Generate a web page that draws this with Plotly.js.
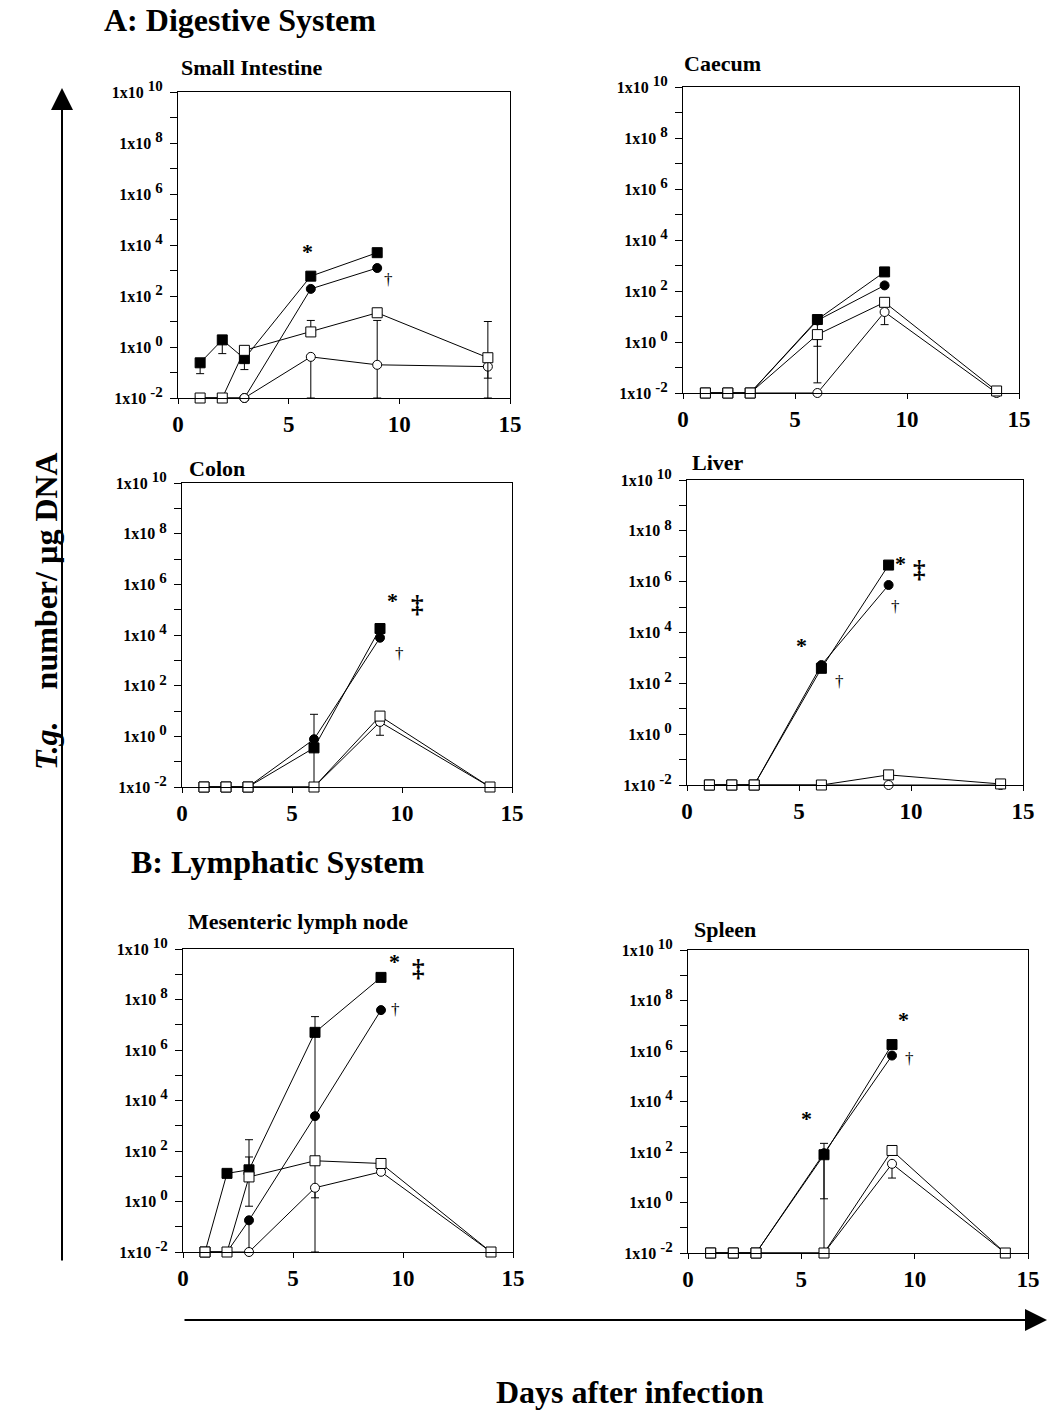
<!DOCTYPE html>
<html>
<head>
<meta charset="utf-8">
<script src="https://cdn.plot.ly/plotly-3.0.1.min.js"></script>
<style>html,body{margin:0;padding:0;background:#fff;}#chart{width:1051px;height:1410px;}</style>
</head>
<body>
<div id="chart"></div>
<script>
// ---------- DATA ----------
const days = [1, 2, 3, 6, 9, 14];
const panelTitles = ["Small Intestine", "Caecum", "Colon", "Liver", "Mesenteric lymph node", "Spleen"];
const decadeExp = [-2, -1, 0, 1, 2, 3, 4, 5, 6, 7, 8, 9, 10];
const xTicks = [0, 5, 10, 15];

// Small intestine
const si_fsq = [0.24, 1.9, 0.35, 600, 5000, null];
const si_fci = [0.01, 0.01, 0.01, 190, 1250, null];
const si_osq = [0.01, 0.01, 0.74, 3.9, 22, 0.38];
const si_oci = [0.01, 0.01, 0.01, 0.41, 0.2, 0.17];
const si_fsq_lo = [0.09, 0.55, 0.13, null, null, null];
const si_osq_hi = [null, null, null, 11, null, 10];
const si_osq_lo = [null, null, null, null, null, 0.01];
const si_oci_hi = [null, null, null, null, 11, null];
const si_oci_lo = [null, null, null, 0.01, 0.01, 0.06];

// Caecum
const ca_fsq = [0.01, 0.01, 0.01, 7.6, 560, null];
const ca_fci = [0.01, 0.01, 0.01, 7, 166, null];
const ca_osq = [0.01, 0.01, 0.01, 1.95, 36, 0.012];
const ca_oci = [0.01, 0.01, 0.01, 0.01, 15, 0.01];
const ca_fsq_lo = [null, null, null, 0.68, null, null];
const ca_osq_lo = [null, null, null, 0.025, null, null];
const ca_oci_lo = [null, null, null, null, 4.8, null];

// Colon
const co_fsq = [0.01, 0.01, 0.01, 0.35, 18000, null];
const co_fci = [0.01, 0.01, 0.01, 0.77, 7800, null];
const co_osq = [0.01, 0.01, 0.01, 0.01, 6.3, 0.01];
const co_oci = [0.01, 0.01, 0.01, 0.01, 3.7, 0.01];
const co_fci_hi = [null, null, null, 7.4, null, null];
const co_fsq_lo = [null, null, null, 0.01, null, null];
const co_fsq_hi = [null, null, null, null, 24000, null];
const co_oci_lo = [null, null, null, null, 1.1, null];

// Liver
const li_fsq = [0.01, 0.01, 0.01, 390, 4.5e6, null];
const li_fci = [0.01, 0.01, 0.01, 525, 7.4e5, null];
const li_osq = [0.01, 0.01, 0.01, 0.01, 0.025, 0.011];
const li_oci = [0.01, 0.01, 0.01, 0.01, 0.01, 0.01];

// Mesenteric lymph node
const ml_fsq = [0.01, 13, 18, 5e6, 7.5e8, null];
const ml_fci = [0.01, 0.01, 0.18, 2400, 3.8e7, null];
const ml_osq = [0.01, 0.01, 9.4, 41, 32, 0.01];
const ml_oci = [0.01, 0.01, 0.01, 3.5, 15, 0.01];
const ml_fsq_hi = [null, null, 280, 2.1e7, null, null];
const ml_fsq_lo = [null, null, null, 0.01, null, null];
const ml_osq_hi = [null, null, 58, null, null, null];
const ml_osq_lo = [null, null, 0.65, null, null, null];
const ml_fci_lo = [null, null, 0.01, null, null, null];
const ml_oci_lo = [null, null, null, 1.4, null, null];

// Spleen
const sp_fsq = [0.01, 0.01, 0.01, 78, 1.8e6, null];
const sp_fci = [0.01, 0.01, 0.01, 90, 6.6e5, null];
const sp_osq = [0.01, 0.01, 0.01, 0.01, 115, 0.01];
const sp_oci = [0.01, 0.01, 0.01, 0.01, 34, 0.01];
const sp_fsq_hi = [null, null, null, 220, null, null];
const sp_fsq_lo = [null, null, null, 0.01, null, null];
const sp_fci_lo = [null, null, null, 1.4, null, null];
const sp_oci_lo = [null, null, null, null, 9.3, null];

// significance marks: [panel, symbol, day, log10 level]
const marks = [
  [1, "*", 5.87, 3.74], [1, "†", 9.5, 2.65],
  [3, "*", 9.58, 5.38], [3, "‡", 10.7, 5.21], [3, "†", 9.9, 3.27],
  [4, "*", 9.54, 6.72], [4, "‡", 10.37, 6.46], [4, "†", 9.33, 5.02], [4, "*", 5.09, 3.48], [4, "†", 6.83, 2.07],
  [5, "*", 9.6, 9.5], [5, "‡", 10.7, 9.23], [5, "†", 9.64, 7.6],
  [6, "*", 9.52, 7.23], [6, "†", 9.78, 5.71], [6, "*", 5.23, 3.34]
];

// ---------- LAYOUT GEOMETRY (pixels) ----------
const W = 1051, H = 1410;
const FONT = "Liberation Serif, Times New Roman, serif";
const boxes = [
  {l: 178, r: 510, t: 92, b: 398, tx: 179, ty: 68},
  {l: 683, r: 1019, t: 87, b: 393, tx: 682, ty: 64},
  {l: 182, r: 512, t: 483, b: 787, tx: 187, ty: 468},
  {l: 687, r: 1023, t: 480, b: 785, tx: 690, ty: 463},
  {l: 183, r: 513, t: 949, b: 1252, tx: 186, ty: 922},
  {l: 688, r: 1028, t: 950, b: 1253, tx: 692, ty: 929}
];

function errY(y, hi, lo) {
  if (!hi && !lo) return undefined;
  return {
    type: "data", symmetric: false, visible: true,
    array: y.map((v, i) => (hi && hi[i] != null && v != null) ? hi[i] - v : 0),
    arrayminus: y.map((v, i) => (lo && lo[i] != null && v != null) ? v - lo[i] : 0),
    color: "black", thickness: 1, width: 4
  };
}
function series(n, y, symbol, filled, hi, lo) {
  const t = {
    x: days, y: y, type: "scatter", mode: "lines+markers",
    xaxis: "x" + (n === 1 ? "" : n), yaxis: "y" + (n === 1 ? "" : n),
    line: {color: "black", width: 1},
    marker: {symbol: symbol, size: symbol === "square" ? 10 : 9,
             color: filled ? "black" : "white", line: {color: "black", width: 1}},
    cliponaxis: false, showlegend: false, hoverinfo: "x+y"
  };
  const e = errY(y, hi, lo);
  if (e) t.error_y = e;
  return t;
}

const data = [
  series(1, si_fci, "circle", true), series(1, si_fsq, "square", true, null, si_fsq_lo),
  series(1, si_oci, "circle", false, si_oci_hi, si_oci_lo), series(1, si_osq, "square", false, si_osq_hi, si_osq_lo),

  series(2, ca_fci, "circle", true), series(2, ca_fsq, "square", true, null, ca_fsq_lo),
  series(2, ca_oci, "circle", false, null, ca_oci_lo), series(2, ca_osq, "square", false, null, ca_osq_lo),

  series(3, co_fci, "circle", true, co_fci_hi, null), series(3, co_fsq, "square", true, co_fsq_hi, co_fsq_lo),
  series(3, co_oci, "circle", false, null, co_oci_lo), series(3, co_osq, "square", false),

  series(4, li_fci, "circle", true), series(4, li_fsq, "square", true),
  series(4, li_oci, "circle", false), series(4, li_osq, "square", false),

  series(5, ml_fci, "circle", true, null, ml_fci_lo), series(5, ml_fsq, "square", true, ml_fsq_hi, ml_fsq_lo),
  series(5, ml_oci, "circle", false, null, ml_oci_lo), series(5, ml_osq, "square", false, ml_osq_hi, ml_osq_lo),

  series(6, sp_fci, "circle", true, null, sp_fci_lo), series(6, sp_fsq, "square", true, sp_fsq_hi, sp_fsq_lo),
  series(6, sp_oci, "circle", false, null, sp_oci_lo), series(6, sp_osq, "square", false)
];

const layout = {
  width: W, height: H, margin: {l: 0, r: 0, t: 0, b: 0},
  paper_bgcolor: "white", plot_bgcolor: "white", showlegend: false,
  font: {family: FONT, color: "black"},
  annotations: [], shapes: []
};

const yTickVals = decadeExp.map(e => Math.pow(10, e));
const yTickText = decadeExp.map(e => (e % 2 === 0)
  ? "1x10 <sup><span style=\"font-size:15px\">" + e + "</span></sup>" : "");

boxes.forEach((b, i) => {
  const n = i + 1, s = n === 1 ? "" : String(n);
  layout["xaxis" + s] = {
    domain: [b.l / W, b.r / W], anchor: "y" + s, range: [0, 15],
    tickvals: xTicks, ticktext: xTicks.map(String),
    ticks: "outside", ticklen: 5, tickcolor: "black",
    showline: true, mirror: true, linecolor: "black", linewidth: 1,
    showgrid: false, zeroline: false,
    tickfont: {family: FONT, size: 23, weight: "bold", color: "black"}
  };
  layout["yaxis" + s] = {
    domain: [1 - b.b / H, 1 - b.t / H], anchor: "x" + s, type: "log", range: [-2, 10],
    tickmode: "array", tickvals: yTickVals, ticktext: yTickText,
    ticks: "outside", ticklen: 7, tickcolor: "black", ticklabelstandoff: 4,
    showline: true, mirror: true, linecolor: "black", linewidth: 1,
    showgrid: false, zeroline: false,
    tickfont: {family: FONT, size: 16, weight: "bold", color: "black"}
  };
  layout.annotations.push({
    text: panelTitles[i], xref: "paper", yref: "paper",
    x: b.tx / W, y: 1 - b.ty / H, xanchor: "left", yanchor: "middle", showarrow: false,
    font: {family: FONT, size: 22, weight: "bold", color: "black"}
  });
});

marks.forEach(m => {
  const n = m[0], s = n === 1 ? "" : String(n);
  const sym = m[1];
  layout.annotations.push({
    text: sym, xref: "x" + s, yref: "y" + s, x: m[2], y: m[3], showarrow: false,
    xanchor: "center", yanchor: "middle",
    font: {family: FONT, size: sym === "†" ? 17 : (sym === "‡" ? 25 : 22),
           weight: sym === "†" ? "normal" : "bold", color: "black"}
  });
});

// section headings, axis labels and arrows
layout.annotations.push(
  {text: "A: Digestive System", xref: "paper", yref: "paper", x: 102 / W, y: 1 - 20 / H,
   xanchor: "left", yanchor: "middle", showarrow: false,
   font: {family: FONT, size: 32, weight: "bold", color: "black"}},
  {text: "B: Lymphatic System", xref: "paper", yref: "paper", x: 129 / W, y: 1 - 862 / H,
   xanchor: "left", yanchor: "middle", showarrow: false,
   font: {family: FONT, size: 32, weight: "bold", color: "black"}},
  {text: "<i>T.g.</i>    number/ µg DNA", xref: "paper", yref: "paper", x: 46 / W, y: 1 - 611 / H,
   xanchor: "center", yanchor: "middle", showarrow: false, textangle: -90,
   font: {family: FONT, size: 32, weight: "bold", color: "black"}},
  {text: "Days after infection", xref: "paper", yref: "paper", x: 630 / W, y: 1 - 1392 / H,
   xanchor: "center", yanchor: "middle", showarrow: false,
   font: {family: FONT, size: 32, weight: "bold", color: "black"}},
  {text: "", xref: "paper", yref: "paper", x: 62 / W, y: 1 - 88 / H, ax: 0, ay: 1174,
   showarrow: true, arrowhead: 2, arrowsize: 2.2, arrowwidth: 2, arrowcolor: "black"},
  {text: "", xref: "paper", yref: "paper", x: 1047 / W, y: 1 - 1320 / H, ax: -864, ay: 0,
   showarrow: true, arrowhead: 2, arrowsize: 2.2, arrowwidth: 2, arrowcolor: "black"}
);

Plotly.newPlot("chart", data, layout, {displayModeBar: false, staticPlot: true});
</script>
</body>
</html>
